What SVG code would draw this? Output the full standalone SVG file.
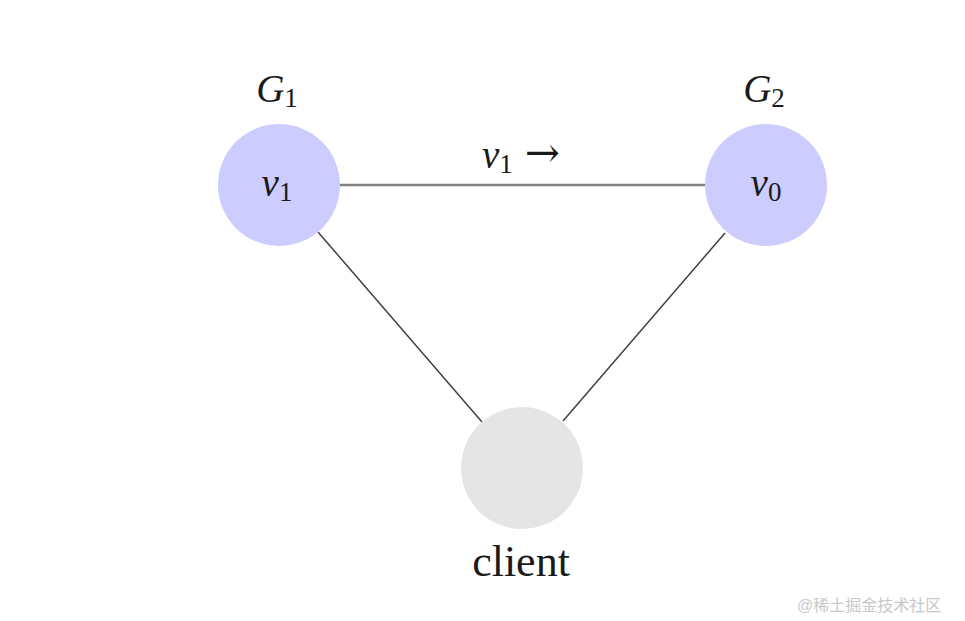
<svg xmlns="http://www.w3.org/2000/svg" width="965" height="621" viewBox="0 0 965 621">
<style>
.math{font-family:"Liberation Serif","DejaVu Serif",serif;font-style:italic;font-size:39px;fill:#1a1a1a}
.sub{font-style:normal;font-size:27px}
.arr{font-family:"DejaVu Serif",serif;font-style:normal;font-size:42px}
.rm{font-family:"Liberation Serif","DejaVu Serif",serif;font-size:44px;fill:#1a1a1a}
.blue{fill:#ccccff}
.gray{fill:#e5e5e5}
</style>
<rect width="965" height="621" fill="#ffffff"/>
<g id="connectors">
<line x1="340" y1="185" x2="705" y2="185" stroke="#808080" stroke-width="2.6"/>
<line x1="318" y1="232" x2="482" y2="422" stroke="#404040" stroke-width="1.5"/>
<line x1="725" y1="233" x2="563" y2="421" stroke="#404040" stroke-width="1.5"/>
<text class="math" x="521" y="168" text-anchor="middle">v<tspan class="sub" dy="5">1</tspan><tspan class="arr" dx="12" dy="-6">→</tspan></text>
</g>
<g id="node-v1">
<circle class="blue" cx="279" cy="185" r="61"/>
<text class="math" x="277" y="196" text-anchor="middle">v<tspan class="sub" dy="5">1</tspan></text>
<text class="math" x="277" y="102" text-anchor="middle">G<tspan class="sub" dy="5">1</tspan></text>
</g>
<g id="node-v0">
<circle class="blue" cx="766" cy="185" r="61"/>
<text class="math" x="766" y="196" text-anchor="middle">v<tspan class="sub" dy="5">0</tspan></text>
<text class="math" x="764" y="102" text-anchor="middle">G<tspan class="sub" dy="5">2</tspan></text>
</g>
<g id="node-client">
<circle class="gray" cx="522" cy="468" r="61"/>
<text class="rm" x="521" y="576" text-anchor="middle">client</text>
</g>
<text x="797" y="611" font-family="'Liberation Sans','Noto Sans CJK SC',sans-serif" font-size="16" fill="#c8c8c8">@稀土掘金技术社区</text>
</svg>
